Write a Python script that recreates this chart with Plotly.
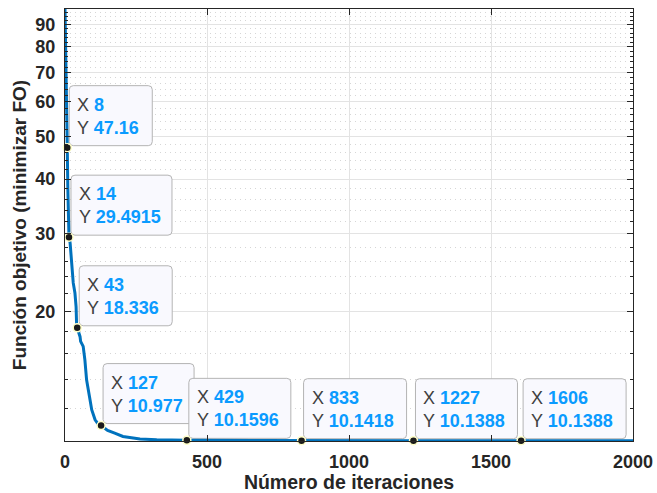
import numpy as np
import plotly.graph_objects as go

# ---- data ----
iter_x = [0, 2, 4, 6, 8, 10, 12, 14, 18, 24, 29, 35, 39, 41, 43, 53, 55, 64, 70, 76, 86,
          94, 106, 115, 127, 150, 175, 204, 264, 323, 429, 600, 833, 1000, 1227, 1606, 2000]
fo_y = [97.6, 75, 62, 53, 47.16, 38, 33, 29.4915, 28.6, 25.5, 23.2, 22.0, 20.5, 18.5,
        18.336, 17.5, 17.07, 16.63, 15.5, 13.96, 12.8, 11.93, 11.32, 11.1, 10.977, 10.7,
        10.55, 10.37, 10.23, 10.19, 10.1596, 10.15, 10.1418, 10.14, 10.1388, 10.1388, 10.1388]

tip_x = [8, 14, 43, 127, 429, 833, 1227, 1606]
tip_y = [47.16, 29.4915, 18.336, 10.977, 10.1596, 10.1418, 10.1388, 10.1388]
tip_xlabel = ["8", "14", "43", "127", "429", "833", "1227", "1606"]
tip_ylabel = ["47.16", "29.4915", "18.336", "10.977", "10.1596", "10.1418", "10.1388", "10.1388"]

x_ticks = [0, 500, 1000, 1500, 2000]
y_ticks = [20, 30, 40, 50, 60, 70, 80, 90]

# ---- styling ----
FONT = "Arial, Liberation Sans, Helvetica, sans-serif"
AX = "#262626"
BLUE = "#0072BD"
TIPBLUE = "#0a9bff"
box_w = [83, 101, 93, 91, 102, 103, 102, 103]
box_h = 60
minor_vals = [v for v in range(12, 100, 2) if v % 10 != 0]

fig = go.Figure()
fig.add_trace(go.Scatter(x=iter_x, y=fo_y, mode="lines",
                         line=dict(color=BLUE, width=3), hoverinfo="skip"))
fig.add_trace(go.Scatter(x=tip_x, y=tip_y, mode="markers",
                         marker=dict(color="#1a1a1a", size=8,
                                     line=dict(color="#ffffc8", width=1.5)),
                         hoverinfo="skip", cliponaxis=False))

shapes = []
annots = []
for xv, yv, xl, yl, w in zip(tip_x, tip_y, tip_xlabel, tip_ylabel, box_w):
    l, b = 2, 2
    r_, t = l + w, b + box_h
    rad = 4
    path = (f"M {l+rad},{b} L {r_-rad},{b} Q {r_},{b} {r_},{b+rad} L {r_},{t-rad} "
            f"Q {r_},{t} {r_-rad},{t} L {l+rad},{t} Q {l},{t} {l},{t-rad} "
            f"L {l},{b+rad} Q {l},{b} {l+rad},{b} Z")
    shapes.append(dict(type="path", xref="x", yref="y", xsizemode="pixel",
                       ysizemode="pixel", xanchor=xv, yanchor=yv, path=path,
                       fillcolor="#f9f9fe", line=dict(color="#b4b4b4", width=1),
                       layer="between"))
    annots.append(dict(
        x=xv, y=np.log10(yv), xref="x", yref="y", xanchor="left", yanchor="bottom",
        xshift=8, yshift=8, showarrow=False, align="left",
        text=(f"<span style='color:#404040'>X</span> <b style='color:{TIPBLUE}'>{xl}</b><br>"
              f"<span style='color:#404040'>Y</span> <b style='color:{TIPBLUE}'>{yl}</b>"),
        font=dict(family=FONT, size=18, color="#404040")))

fig.update_layout(
    width=657, height=493,
    margin=dict(l=65, r=24, t=9, b=52, autoexpand=False),
    paper_bgcolor="white", plot_bgcolor="white",
    showlegend=False,
    font=dict(family=FONT, color=AX),
    shapes=shapes, annotations=annots,
    xaxis=dict(
        range=[0, 2000], tickvals=x_ticks, ticktext=[str(v) for v in x_ticks],
        automargin=False,
        showline=True, linecolor=AX, linewidth=1, mirror="allticks",
        ticks="inside", ticklen=6, tickcolor=AX, tickwidth=1,
        showgrid=True, gridcolor="#e3e3e3", gridwidth=1, zeroline=False,
        tickfont=dict(size=18, weight="bold", color=AX, family=FONT),
        ticklabelstandoff=4,
        title=dict(text="Número de iteraciones", standoff=2,
                   font=dict(size=19.5, weight="bold", color=AX, family=FONT)),
    ),
    yaxis=dict(
        type="log", range=[np.log10(10.1388) - 0.0006, np.log10(97.6)],
        tickvals=y_ticks, ticktext=[str(v) for v in y_ticks],
        automargin=False,
        showline=True, linecolor=AX, linewidth=1, mirror="allticks",
        ticks="inside", ticklen=6, tickcolor=AX, tickwidth=1,
        showgrid=True, gridcolor="#e3e3e3", gridwidth=1, zeroline=False,
        tickfont=dict(size=18, weight="bold", color=AX, family=FONT),
        ticklabelstandoff=5,
        minor=dict(tickmode="array", tickvals=minor_vals, ticks="inside", ticklen=3,
                   tickcolor=AX, showgrid=True, gridcolor="#d6d6d6",
                   griddash="1px,4px", gridwidth=1),
        title=dict(text="Función objetivo (minimizar FO)", standoff=3,
                   font=dict(size=19, weight="bold", color=AX, family=FONT)),
    ),
)

fig.write_html("out.html", config={"displayModeBar": False},
               post_script="document.body.style.margin='0';document.body.style.overflow='hidden';")
